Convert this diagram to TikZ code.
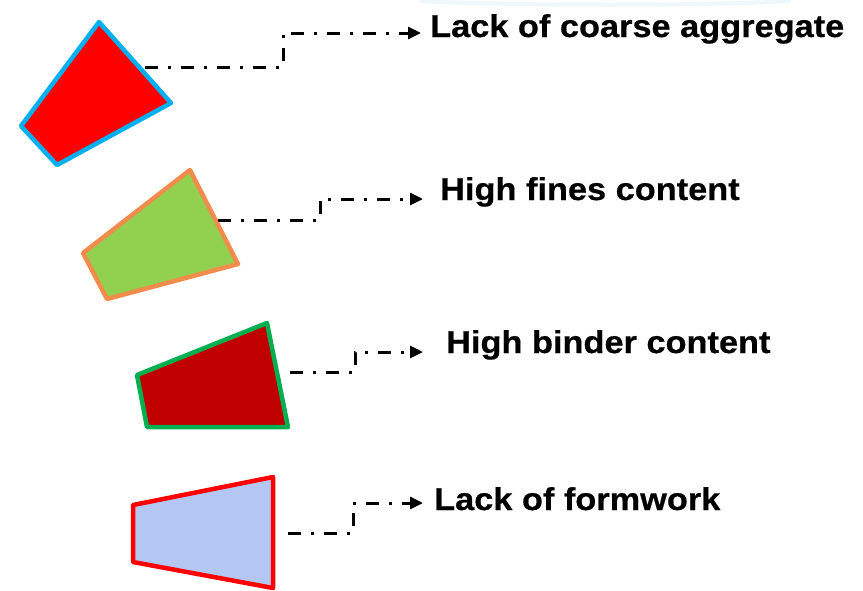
\documentclass[tikz,border=0pt]{standalone}
\usepackage{fontspec}
\setmainfont{Liberation Sans}[BoldFeatures={FakeStretch=1.09,FakeBold=0.6}]
\usetikzlibrary{arrows.meta}
\definecolor{cyanedge}{HTML}{00B0F0}
\definecolor{redfill}{HTML}{FF0000}
\definecolor{orangeedge}{HTML}{F28C4D}
\definecolor{greenfill}{HTML}{92D050}
\definecolor{greenedge}{HTML}{00B050}
\definecolor{darkredfill}{HTML}{C00000}
\definecolor{bluefill}{HTML}{B4C7F2}
\definecolor{haze}{HTML}{EEF8FC}
\tikzset{
  piece/.style={line width=4.5pt, line join=round},
  conn/.style={line width=3pt, dash pattern=on 13pt off 10pt on 3pt off 10pt,
    -{Triangle[length=13pt,width=12pt]}},
  lab/.style={anchor=base west, inner sep=0pt, font=\bfseries\fontsize{31.5}{36}\selectfont}
}
\begin{document}
\begin{tikzpicture}[x=1pt,y=-1pt]
\useasboundingbox (0,0) rectangle (863,590);
% faint arc along the top edge
\draw[haze, line width=4pt] (420,1) .. controls (520,6) and (700,6) .. (790,1);

% the four pieces
\draw[piece, draw=cyanedge, fill=redfill] (99,22) -- (171,103) -- (57,165) -- (21,126) -- cycle;
\draw[piece, draw=orangeedge, fill=greenfill] (190,170) -- (238,264) -- (107,299) -- (83,253) -- cycle;
\draw[piece, draw=greenedge, fill=darkredfill] (267,323) -- (288,427) -- (147,427) -- (137,375) -- cycle;
\draw[piece, draw=redfill, fill=bluefill] (273,477) -- (273,588) -- (133,562) -- (133,505) -- cycle;

% labels
\node[lab] (lab1) at (430,37) {Lack of coarse aggregate};
\node[lab] (lab2) at (440,200) {High fines content};
\node[lab] (lab3) at (446,353) {High binder content};
\node[lab] (lab4) at (434,510) {Lack of formwork};

% connector points
\coordinate (s1) at (145,67);  \coordinate (k1) at (283,67);  \coordinate (e1) at (421,33);
\coordinate (s2) at (218,220); \coordinate (k2) at (320,220); \coordinate (e2) at (423,199);
\coordinate (s3) at (290,372); \coordinate (k3) at (355,372); \coordinate (e3) at (423,352);
\coordinate (s4) at (288,533); \coordinate (k4) at (353,533); \coordinate (e4) at (423,503);

% stepped dash-dot connectors
\draw[conn] (s1) -- (k1) -- (k1 |- e1) -- (e1);
\draw[conn] (s2) -- (k2) -- (k2 |- e2) -- (e2);
\draw[conn] (s3) -- (k3) -- (k3 |- e3) -- (e3);
\draw[conn] (s4) -- (k4) -- (k4 |- e4) -- (e4);
\end{tikzpicture}
\end{document}
